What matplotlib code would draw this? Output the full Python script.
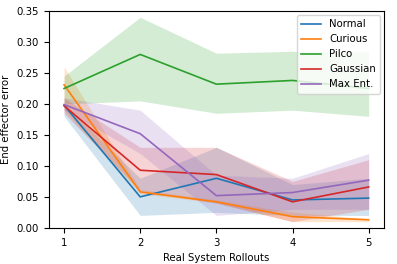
import numpy as np
import matplotlib
matplotlib.use("Agg")
import matplotlib.pyplot as plt

rollouts = [1, 2, 3, 4, 5]
labels = ["Normal", "Curious", "Pilco", "Gaussian", "Max Ent."]
colors = ["#1f77b4", "#ff7f0e", "#2ca02c", "#d62728", "#9467bd"]

normal_mean = [0.198, 0.050, 0.080, 0.045, 0.048]
normal_lo = [0.180, 0.020, 0.025, 0.020, 0.020]
normal_hi = [0.200, 0.080, 0.130, 0.070, 0.080]

curious_mean = [0.231, 0.058, 0.042, 0.018, 0.013]
curious_lo = [0.190, 0.055, 0.040, 0.010, 0.010]
curious_hi = [0.260, 0.062, 0.045, 0.025, 0.015]

pilco_mean = [0.225, 0.280, 0.232, 0.238, 0.225]
pilco_lo = [0.200, 0.205, 0.185, 0.190, 0.180]
pilco_hi = [0.245, 0.340, 0.282, 0.285, 0.285]

gaussian_mean = [0.197, 0.093, 0.086, 0.042, 0.066]
gaussian_lo = [0.185, 0.060, 0.040, 0.010, 0.030]
gaussian_hi = [0.210, 0.130, 0.130, 0.075, 0.110]

maxent_mean = [0.199, 0.152, 0.052, 0.057, 0.077]
maxent_lo = [0.190, 0.120, 0.020, 0.030, 0.030]
maxent_hi = [0.210, 0.190, 0.085, 0.080, 0.120]

means = [normal_mean, curious_mean, pilco_mean, gaussian_mean, maxent_mean]
lows = [normal_lo, curious_lo, pilco_lo, gaussian_lo, maxent_lo]
highs = [normal_hi, curious_hi, pilco_hi, gaussian_hi, maxent_hi]

plt.rcParams["font.size"] = 7.3
fig, ax = plt.subplots(figsize=(3.97, 2.64), dpi=100)

for m, lo, hi, lab, c in zip(means, lows, highs, labels, colors):
    ax.plot(rollouts, m, color=c, label=lab, linewidth=1.2)
    ax.fill_between(rollouts, lo, hi, color=c, alpha=0.2, linewidth=0)

ax.set_xticks(rollouts)
ax.set_ylim(0, 0.35)
ax.set_xlim(0.8, 5.2)
ax.set_xlabel("Real System Rollouts")
ax.set_ylabel("End effector error")
ax.legend(loc="upper right", borderaxespad=0.4)

fig.subplots_adjust(left=0.123, right=0.967, top=0.958, bottom=0.137)
fig.savefig("out.png", dpi=100)
